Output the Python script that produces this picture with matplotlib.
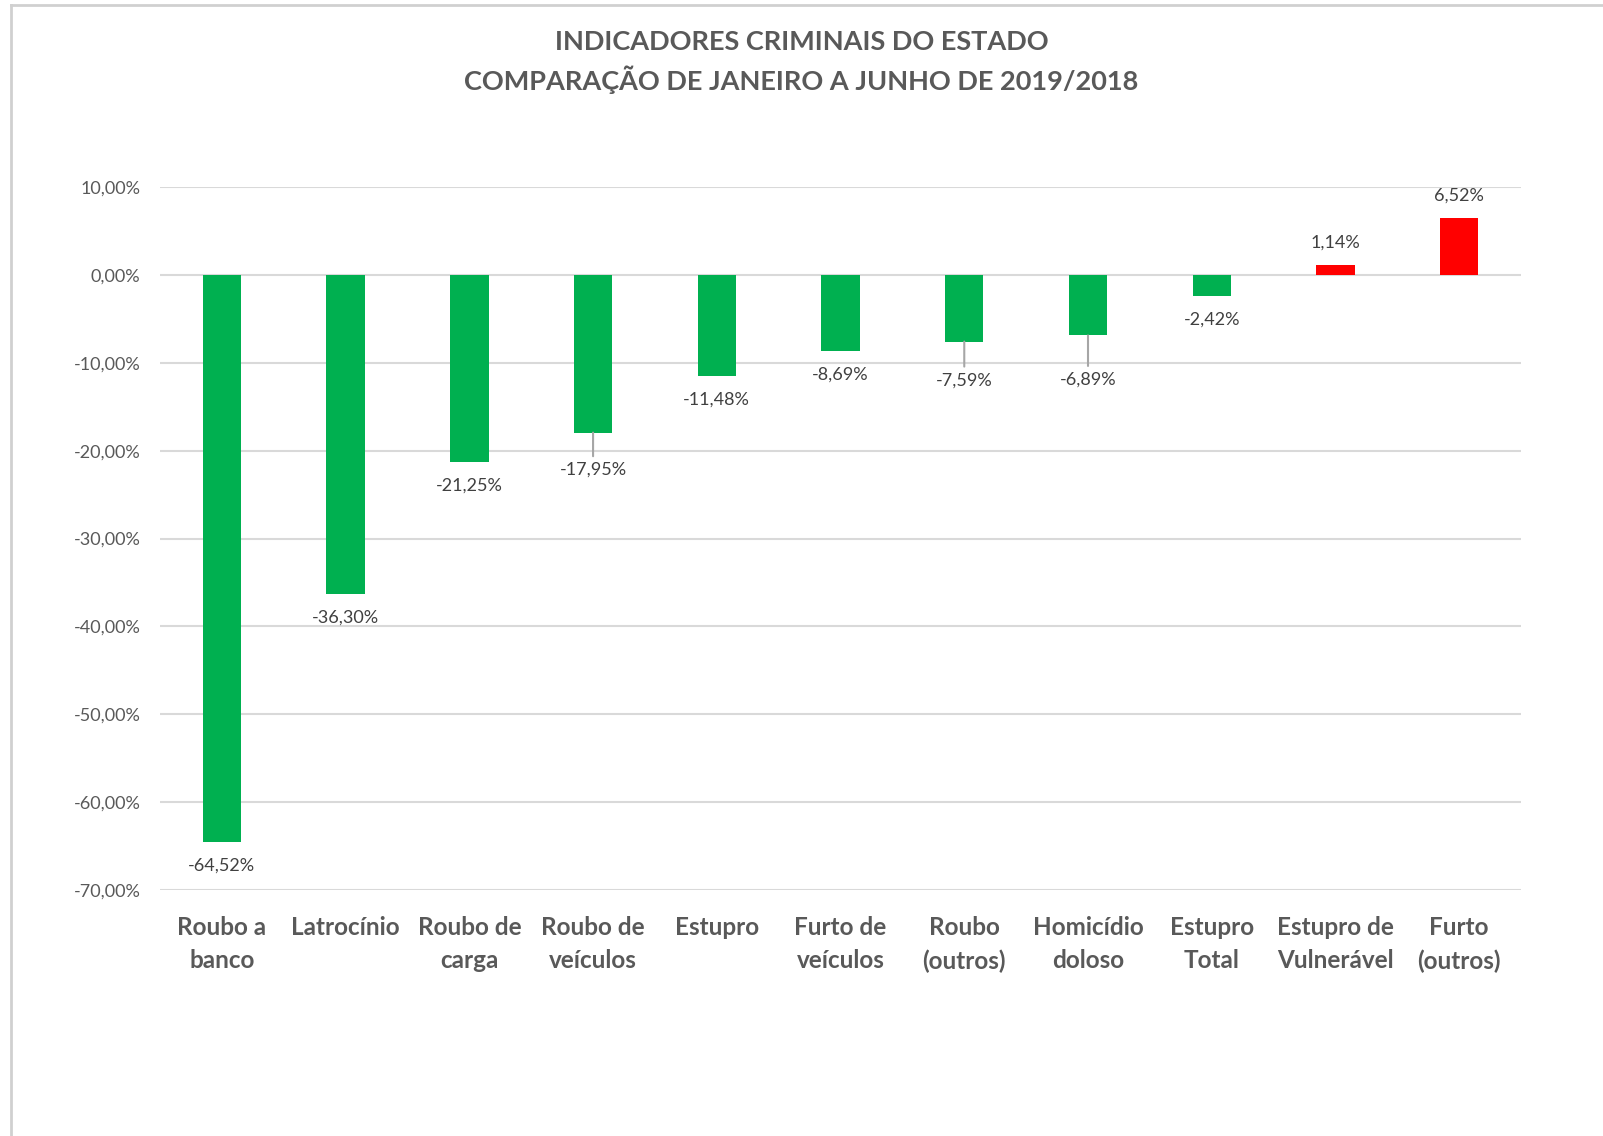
import numpy as np
import matplotlib.pyplot as plt
from matplotlib.ticker import FuncFormatter
from matplotlib.lines import Line2D

plt.rcParams['font.family'] = ['Lato', 'DejaVu Sans']

categories = ['Roubo a\nbanco', 'Latrocínio', 'Roubo de\ncarga', 'Roubo de\nveículos', 'Estupro',
              'Furto de\nveículos', 'Roubo\n(outros)', 'Homicídio\ndoloso', 'Estupro\nTotal',
              'Estupro de\nVulnerável', 'Furto\n(outros)']
values = [-64.52, -36.30, -21.25, -17.95, -11.48, -8.69, -7.59, -6.89, -2.42, 1.14, 6.52]
yticks = [10, 0, -10, -20, -30, -40, -50, -60, -70]

# label offsets (points) from bar end; some labels were dragged in the original, with leader lines
offsets = [17, 17, 17, 27, 17, 17, 28, 32, 17, 16, 16]
leaders = [False, False, False, True, False, False, True, True, False, False, False]

GREEN = '#00B050'
RED = '#FF0000'
GRAY = '#595959'

fig = plt.figure(figsize=(16.03, 11.36), dpi=100)
ax = fig.add_axes([0.0998, 0.2165, 0.8491, 0.6189])

x = np.arange(len(values))
colors = [GREEN if v < 0 else RED for v in values]
ax.bar(x, values, width=0.31, color=colors, zorder=3)

ax.set_ylim(-70, 10)
ax.set_xlim(-0.5, len(values) - 0.5)
ax.set_yticks(yticks)
ax.yaxis.set_major_formatter(FuncFormatter(lambda v, p: ('%.2f%%' % v).replace('.', ',')))
ax.grid(axis='y', color='#D9D9D9', linewidth=1.5, zorder=0)
for s in ax.spines.values():
    s.set_visible(False)
ax.tick_params(axis='y', length=0, pad=14, labelsize=13, labelcolor=GRAY)
ax.tick_params(axis='x', length=0, pad=19, labelsize=17.5, labelcolor=GRAY)
ax.set_xticks(x)
ax.set_xticklabels(categories, fontweight='bold', linespacing=1.5, va='top')

for i, v in enumerate(values):
    sign = -1 if v < 0 else 1
    txt = ('%.2f%%' % v).replace('.', ',')
    ax.annotate(txt, (x[i], v), xytext=(0, sign * offsets[i]), textcoords='offset points',
                ha='center', va='center', fontsize=13, color='#404040', zorder=4)
    if leaders[i]:
        ax.annotate('', xy=(x[i], v), xytext=(0, sign * (offsets[i] - 10)),
                    textcoords='offset points',
                    arrowprops=dict(arrowstyle='-', color='#A6A6A6', lw=1.5,
                                    shrinkA=0, shrinkB=0))

fig.text(0.5, 1 - 42 / 1136, 'INDICADORES CRIMINAIS DO ESTADO', ha='center', va='center',
         fontsize=19.5, fontweight='bold', color=GRAY)
fig.text(0.5, 1 - 80 / 1136, 'COMPARAÇÃO DE JANEIRO A JUNHO DE 2019/2018', ha='center', va='center',
         fontsize=19.5, fontweight='bold', color=GRAY)

# chart frame edges visible in the screenshot
fig.add_artist(Line2D([11 / 1603, 11 / 1603], [0, 1 - 5 / 1136], transform=fig.transFigure,
                      color='#D0D0D0', lw=2))
fig.add_artist(Line2D([11 / 1603, 1], [1 - 5 / 1136, 1 - 5 / 1136], transform=fig.transFigure,
                      color='#D0D0D0', lw=2))

fig.savefig('out.png', dpi=100)
